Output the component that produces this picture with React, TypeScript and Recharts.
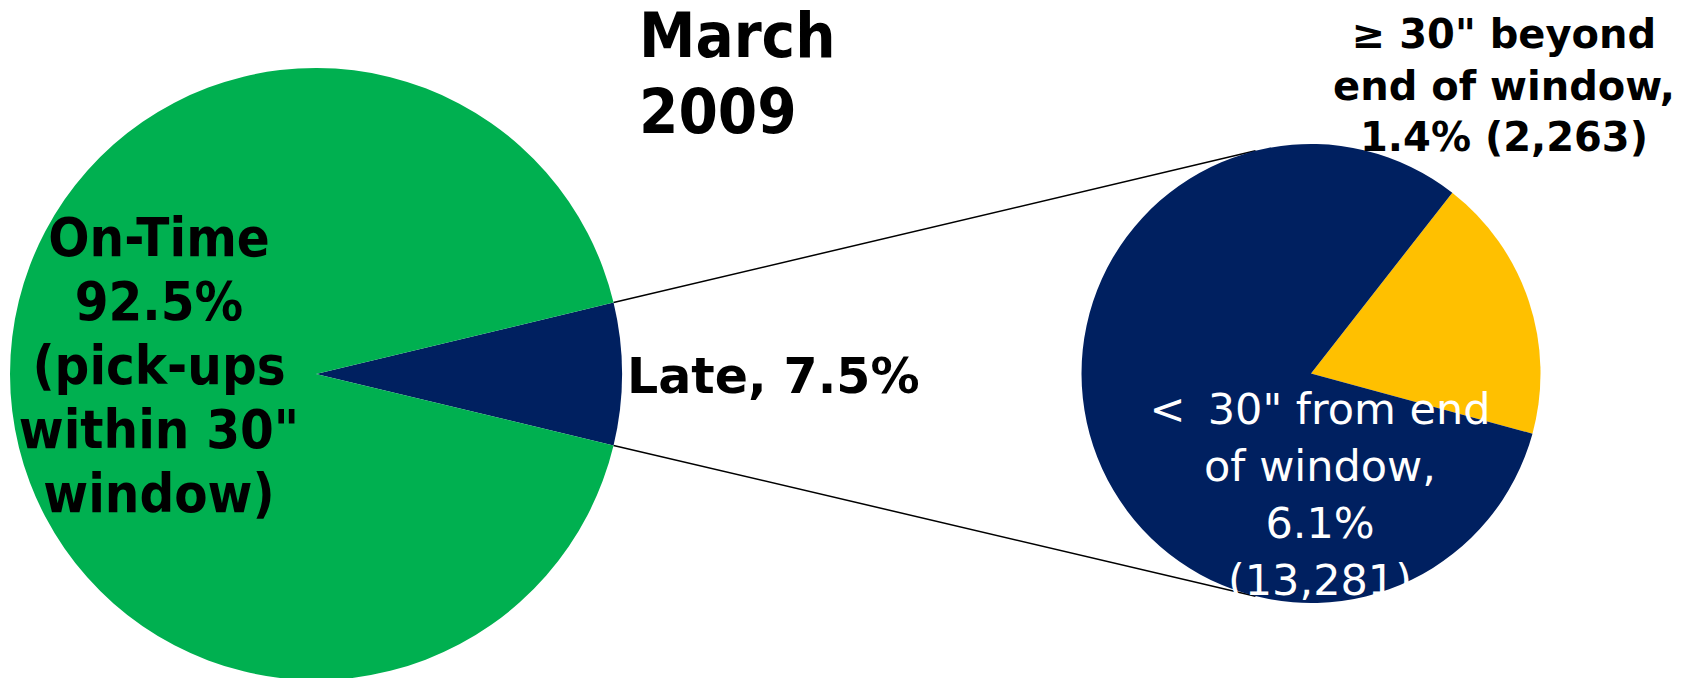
import React from "react";
import { PieChart, Pie, Cell } from "recharts";

// ---- data ----
const mainCategories = ["Late", "On-Time"];
const mainValues = [7.5, 92.5];
const mainColors = ["#002060", "#00B050"];

const lateCategories = ["≥ 30\" beyond end of window", "< 30\" from end of window"];
const lateValues = [1.4, 6.1];
const lateCounts = ["2,263", "13,281"];
const lateColors = ["#FFC000", "#002060"];

const titleLines = ["March", "2009"];
const onTimeLabelLines = ["On-Time", `${mainValues[1]}%`, "(pick-ups", "within 30\"", "window)"];
const lateLabel = `Late, ${mainValues[0]}%`;
const beyondLabelLines = ["≥ 30\" beyond", "end of window,", `${lateValues[0]}% (${lateCounts[0]})`];
const withinLabelLines = ["<\u2009 30\" from end", "of window,", `${lateValues[1]}%`, `(${lateCounts[1]})`];

const mainData = mainCategories.map((name, i) => ({ name, value: mainValues[i] }));
const lateData = lateCategories.map((name, i) => ({ name, value: lateValues[i] }));

// ---- layout ----
const W = 1689;
const H = 678;
const L_CX = 316;
const L_CY = 374;
const L_R = 306;
const R_CX = 1311;
const R_CY = 373.5;
const R_R = 229.5;
const RIGHT_TAN_DEG = 104;

const mainTotal = mainValues.reduce((a, b) => a + b, 0);
const lateHalfDeg = (mainValues[0] / mainTotal) * 180;
const lateTotal = lateValues.reduce((a, b) => a + b, 0);
const yellowSpan = (lateValues[0] / lateTotal) * 360;
const yellowCenterDeg = 18.4;
const rightStart = yellowCenterDeg - yellowSpan / 2;

const rad = (d: number) => (d * Math.PI) / 180;
const pt = (cx: number, cy: number, r: number, deg: number) => ({
  x: cx + r * Math.cos(rad(deg)),
  y: cy - r * Math.sin(rad(deg)),
});

const BOLD = "'DejaVu Sans', Verdana, sans-serif";
const COND = "'DejaVu Sans Condensed', 'DejaVu Sans', sans-serif";

function Connectors() {
  const a1 = pt(L_CX, L_CY, L_R, lateHalfDeg);
  const a2 = pt(L_CX, L_CY, L_R, -lateHalfDeg);
  const b1 = pt(R_CX, R_CY, R_R, RIGHT_TAN_DEG);
  const b2 = pt(R_CX, R_CY, R_R, -RIGHT_TAN_DEG);
  return (
    <g>
      <line x1={a1.x} y1={a1.y} x2={b1.x} y2={b1.y} stroke="#000" strokeWidth={1.5} />
      <line x1={a2.x} y1={a2.y} x2={b2.x} y2={b2.y} stroke="#000" strokeWidth={1.5} />
    </g>
  );
}

function Title() {
  return (
    <g>
      {titleLines.map((t, i) => (
        <text key={"t" + i} x={639} y={57 + i * 76} fontFamily={COND} fontStretch="condensed"
          fontWeight="bold" fontSize={63} fill="#000">{t}</text>
      ))}
    </g>
  );
}

const mainLabel = (props: any) => {
  const { index, cx, cy, outerRadius } = props;
  if (index === 0) {
    return (
      <text key="late" x={cx + outerRadius + 5} y={cy + 19} fontFamily={BOLD} fontWeight="bold"
        fontSize={49} fill="#000">{lateLabel}</text>
    );
  }
  return (
    <g key="ontime">
      {onTimeLabelLines.map((t, i) => (
        <text key={"o" + i} x={cx - 157} y={cy - 118 + i * 64} textAnchor="middle" fontFamily={COND}
          fontStretch="condensed" fontWeight="bold" fontSize={54} fill="#000">{t}</text>
      ))}
    </g>
  );
};

const lateLabelFn = (props: any) => {
  const { index, cx, cy } = props;
  if (index === 0) {
    return (
      <g key="beyond">
        {beyondLabelLines.map((t, i) => (
          <text key={"b" + i} x={cx + 193} y={cy - 325.5 + i * 51.5} textAnchor="middle" fontFamily={BOLD}
            fontWeight="bold" fontSize={40} fill="#000">{t}</text>
        ))}
      </g>
    );
  }
  return (
    <g key="within">
      {withinLabelLines.map((t, i) => (
        <text key={"w" + i} x={cx + 9} y={cy + 50 + i * 57} textAnchor="middle" fontFamily={BOLD}
          fontSize={43} fill="#fff">{t}</text>
      ))}
    </g>
  );
};

export default function App() {
  return (
    <div style={{ position: "absolute", left: 0, top: 0, width: W, height: H, background: "#fff" }}>
      <PieChart width={W} height={H} margin={{ top: 0, right: 0, bottom: 0, left: 0 }}>
        <Connectors />
        <Title />
        <Pie
          data={mainData}
          dataKey="value"
          nameKey="name"
          cx={L_CX}
          cy={L_CY}
          outerRadius={L_R}
          innerRadius={0}
          startAngle={-lateHalfDeg}
          endAngle={360 - lateHalfDeg}
          stroke="none"
          isAnimationActive={false}
          label={mainLabel}
          labelLine={false}
        >
          {mainData.map((d, i) => (
            <Cell key={d.name} fill={mainColors[i]} stroke="none" />
          ))}
        </Pie>
        <Pie
          data={lateData}
          dataKey="value"
          nameKey="name"
          cx={R_CX}
          cy={R_CY}
          outerRadius={R_R}
          innerRadius={0}
          startAngle={rightStart}
          endAngle={rightStart + 360}
          stroke="none"
          isAnimationActive={false}
          label={lateLabelFn}
          labelLine={false}
        >
          {lateData.map((d, i) => (
            <Cell key={d.name} fill={lateColors[i]} stroke="none" />
          ))}
        </Pie>
      </PieChart>
    </div>
  );
}
